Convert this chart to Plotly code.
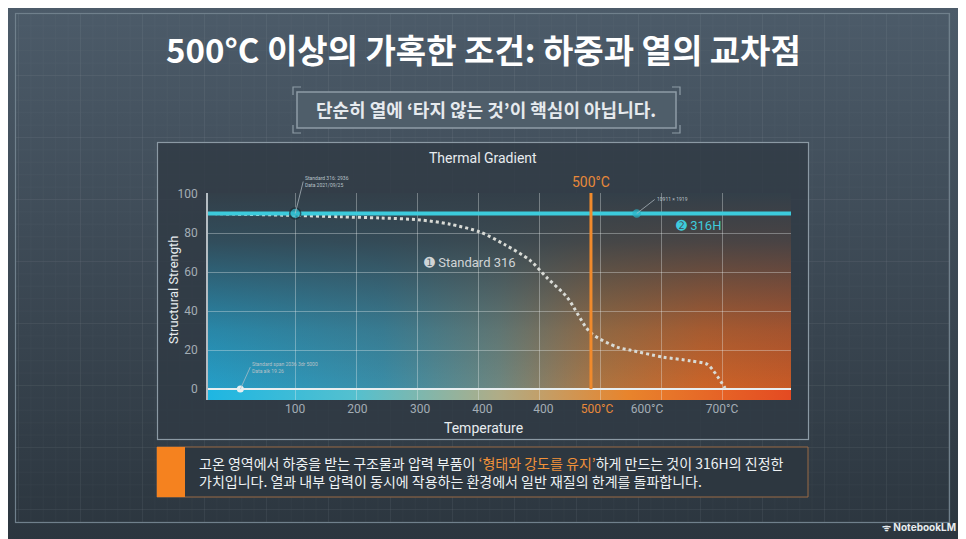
import base64
import plotly.graph_objects as go

W, H = 966, 539
OX, OY = 8, 8  # page body margin offset

# data
temp_std = [-43, 100, 174, 239, 305, 354, 403, 444, 485, 513, 546, 584, 628, 649, 703, 748, 775, 785, 805]
strength_std = [90, 89, 88.3, 87.7, 86.7, 84.5, 80.5, 74, 66, 57, 47, 29, 21.5, 20, 16.4, 14.5, 12.8, 9.7, 0.5]
temp_316h = [-43, 913]
strength_316h = [90, 90]
marker_temps = [100, 660]
marker_strength = [90, 90]
threshold_temp = 585
threshold_span = [0, 100.5]
base_point_temp = [10]
base_point_strength = [0]
grid_temps = [100, 200, 300, 400, 500, 600, 700, 800]
label_temps = [100, 202, 305, 407, 507, 595, 677, 800]
label_text = ["100", "200", "300", "400", "400",
              '<span style="color:#e8893a">500°C</span>', "600°C", "700°C"]


def px(x):
    return (x - OX) / W


def py(y):
    return 1 - (y - OY) / H


def svg_uri(svg):
    return "data:image/svg+xml;base64," + base64.b64encode(svg.encode()).decode()


page_svg = """<svg xmlns="http://www.w3.org/2000/svg" width="966" height="539" viewBox="0 0 966 539">
<defs>
<linearGradient id="bg" x1="0" y1="0" x2="0" y2="1">
<stop offset="0" stop-color="#4c5b69"/><stop offset="1" stop-color="#2b353e"/></linearGradient>
<pattern id="mi" width="12.4" height="12.4" patternUnits="userSpaceOnUse" x="18" y="13">
<path d="M0 0V12.4M0 0H12.4" stroke="#ffffff" stroke-opacity="0.035" fill="none"/></pattern>
<pattern id="ma" width="62" height="62" patternUnits="userSpaceOnUse" x="18" y="13">
<path d="M0 0V62M0 0H62" stroke="#ffffff" stroke-opacity="0.07" fill="none"/></pattern>
</defs>
<rect width="966" height="539" fill="url(#bg)"/>
<g transform="translate(-8,-8)">
<rect x="15" y="13" width="935" height="510" fill="url(#mi)"/>
<rect x="15" y="13" width="935" height="510" fill="url(#ma)"/>
<rect x="15.5" y="13.5" width="934" height="509" fill="none" stroke="#70808c" stroke-width="1.2"/>
<rect x="157.5" y="142.5" width="651" height="297" fill="#2f3a44" fill-opacity="0.8" stroke="#8b99a4" stroke-width="1.2"/>
</g>
</svg>"""

plot_svg = """<svg xmlns="http://www.w3.org/2000/svg" width="583" height="207" viewBox="0 0 583 207" preserveAspectRatio="none">
<defs>
<linearGradient id="h" x1="0" y1="0" x2="1" y2="0">
<stop offset="0" stop-color="#259fc8"/><stop offset="0.3" stop-color="#3a8ea8"/>
<stop offset="0.5" stop-color="#6e8780"/><stop offset="0.68" stop-color="#b0743f"/>
<stop offset="0.85" stop-color="#cc6428"/><stop offset="1" stop-color="#c95a26"/></linearGradient>
<linearGradient id="v" x1="0" y1="0" x2="0" y2="1">
<stop offset="0" stop-color="#333f49" stop-opacity="1"/><stop offset="0.25" stop-color="#333f49" stop-opacity="0.85"/>
<stop offset="0.7" stop-color="#333f49" stop-opacity="0.25"/><stop offset="1" stop-color="#333f49" stop-opacity="0"/></linearGradient>
<linearGradient id="b" x1="0" y1="0" x2="1" y2="0">
<stop offset="0" stop-color="#1eb6e2"/><stop offset="0.25" stop-color="#54c0cf"/>
<stop offset="0.5" stop-color="#b0ac86"/><stop offset="0.72" stop-color="#e8842c"/>
<stop offset="1" stop-color="#e44a22"/></linearGradient>
</defs>
<rect width="583" height="196" fill="url(#h)"/>
<rect width="583" height="196" fill="url(#v)"/>
<rect y="196" width="583" height="11" fill="url(#b)"/>
</svg>"""

fig = go.Figure()

fig.add_trace(go.Scatter(
    x=temp_std, y=strength_std, mode="lines",
    line=dict(color="#d9dbd6", width=3, dash="dot", shape="spline", smoothing=0.8),
    hoverinfo="skip"))
fig.add_trace(go.Scatter(
    x=temp_316h, y=strength_316h, mode="lines",
    line=dict(color="#3ccbdc", width=4), hoverinfo="skip"))
fig.add_trace(go.Scatter(
    x=marker_temps, y=marker_strength, mode="markers",
    marker=dict(size=[11, 7], color="#2bb5c8", line=dict(color=["#1c2b33", "#2bb5c8"], width=1.5)),
    hoverinfo="skip"))
fig.add_trace(go.Scatter(
    x=[threshold_temp, threshold_temp], y=threshold_span, mode="lines",
    line=dict(color="#f08a2c", width=3), hoverinfo="skip", xaxis="x2"))
fig.add_trace(go.Scatter(
    x=base_point_temp, y=base_point_strength, mode="markers",
    marker=dict(size=7, color="#e8f0f2"), hoverinfo="skip"))

axis_font = dict(family="Roboto", size=12, color="#a3adb5")
label_font = "Roboto"
kr_font = "Noto Sans CJK KR"

annotations = [
    dict(text="<b>500°C 이상의 가혹한 조건: 하중과 열의 교차점</b>", x=px(483), y=py(49),
         font=dict(family=kr_font, size=33, color="#ffffff")),
    dict(text="<b>단순히 열에 ‘타지 않는 것’이 핵심이 아닙니다.</b>", x=px(486), y=py(109),
         font=dict(family=kr_font, size=18, color="#e6eaee")),
    dict(text="Thermal Gradient", x=px(483), y=py(158),
         font=dict(family=label_font, size=14, color="#e8ecef")),
    dict(text="Temperature", x=px(483), y=py(428),
         font=dict(family=label_font, size=14, color="#e8ecef")),
    dict(text="Structural Strength", x=px(173), y=py(290), textangle=-90,
         font=dict(family=label_font, size=13, color="#e8ecef")),
    dict(text="500°C", x=px(591), y=py(182),
         font=dict(family=label_font, size=14, color="#e8893a")),
    dict(text="고온 영역에서 하중을 받는 구조물과 압력 부품이 <span style=\"color:#f0913a\">‘형태와 강도를 유지’</span>하게 만드는 것이 316H의 진정한"
              "<br>가치입니다. 열과 내부 압력이 동시에 작용하는 환경에서 일반 재질의 한계를 돌파합니다.",
         x=px(197), y=py(472), xanchor="left", align="left",
         font=dict(family=kr_font, size=14, color="#eef2f4")),
    dict(text="<b>ᯤ NotebookLM</b>", x=px(958), y=py(527), xanchor="right",
         font=dict(family="Inter", size=10, color="#e8ecef")),
]
for a in annotations:
    a.update(xref="paper", yref="paper", showarrow=False)
    a.setdefault("xanchor", "center")
    a.setdefault("yanchor", "middle")

annotations += [
    dict(text="➊ Standard 316", x=387, y=65, xref="x", yref="y", showarrow=False,
         font=dict(family=label_font, size=13, color="#d0d4d6")),
    dict(text="➋ 316H", x=762, y=84, xref="x", yref="y", showarrow=False,
         font=dict(family=label_font, size=13, color="#3ecbdc")),
    dict(text="Standard 316: 2936<br>Data 2021/09/25", x=100, y=90, xref="x", yref="y",
         showarrow=True, arrowhead=0, arrowwidth=0.7, arrowcolor="#b8c2c8", ax=8, ay=-32,
         xanchor="left", align="left", font=dict(family=label_font, size=5, color="#b8c2c8")),
    dict(text="10911 × 1919", x=660, y=90, xref="x", yref="y",
         showarrow=True, arrowhead=0, arrowwidth=0.7, arrowcolor="#b8c2c8", ax=18, ay=-14,
         xanchor="left", align="left", font=dict(family=label_font, size=5, color="#b8c2c8")),
    dict(text="Standard span 2036 3dr 5000<br>Data alk 19.26", x=10, y=0, xref="x", yref="y",
         showarrow=True, arrowhead=0, arrowwidth=0.7, arrowcolor="#b8c2c8", ax=10, ay=-22,
         xanchor="left", align="left", font=dict(family=label_font, size=5, color="#b8c2c8")),
]

bracket = "#8e9ca6"
shapes = [
    dict(type="rect", x0=px(297), x1=px(676), y0=py(128), y1=py(92),
         fillcolor="#4f5e6a", line=dict(color="#8e9ca6", width=1.5)),
    dict(type="path", path=f"M{px(293)},{py(95)} L{px(293)},{py(87)} L{px(301)},{py(87)}",
         line=dict(color=bracket, width=1.2)),
    dict(type="path", path=f"M{px(672)},{py(87)} L{px(680)},{py(87)} L{px(680)},{py(95)}",
         line=dict(color=bracket, width=1.2)),
    dict(type="path", path=f"M{px(293)},{py(125)} L{px(293)},{py(133)} L{px(301)},{py(133)}",
         line=dict(color=bracket, width=1.2)),
    dict(type="path", path=f"M{px(672)},{py(133)} L{px(680)},{py(133)} L{px(680)},{py(125)}",
         line=dict(color=bracket, width=1.2)),
    dict(type="rect", x0=px(157), x1=px(808), y0=py(497), y1=py(447),
         fillcolor="#2d3740", line=dict(color="#9a6a45", width=1)),
    dict(type="rect", x0=px(157), x1=px(185), y0=py(497), y1=py(447),
         fillcolor="#f5821f", line=dict(width=0)),
]
for s in shapes:
    s.update(xref="paper", yref="paper")

images = [
    dict(source=svg_uri(page_svg), xref="paper", yref="paper", x=0, y=1, sizex=1, sizey=1,
         xanchor="left", yanchor="top", sizing="stretch", layer="below"),
    dict(source=svg_uri(plot_svg), xref="paper", yref="paper", x=px(208), y=py(193),
         sizex=px(791) - px(208), sizey=py(193) - py(400),
         xanchor="left", yanchor="top", sizing="stretch", layer="below"),
]

x_range = [-43, 913]
fig.update_layout(
    width=W, height=H,
    margin=dict(l=0, r=0, t=0, b=0),
    paper_bgcolor="#36424c", plot_bgcolor="rgba(0,0,0,0)",
    showlegend=False,
    xaxis=dict(domain=[px(208), px(791)], range=x_range, tickvals=grid_temps,
               showticklabels=False, ticks="", showgrid=True,
               gridcolor="rgba(235,240,242,0.35)", gridwidth=1, zeroline=False,
               automargin=False, fixedrange=True),
    xaxis2=dict(overlaying="x", matches="x", anchor="y", side="bottom", range=x_range,
                tickvals=label_temps, ticktext=label_text, tickfont=axis_font,
                showgrid=False, zeroline=False, ticks="", automargin=False),
    yaxis=dict(domain=[py(400), py(193)], range=[-5.6, 100.5], tickvals=[0, 20, 40, 60, 80, 100],
               tickfont=axis_font, showgrid=True, gridcolor="rgba(235,240,242,0.35)",
               zeroline=True, zerolinecolor="#e8eef0", zerolinewidth=2,
               showline=True, linecolor="rgba(225,232,236,0.75)", linewidth=1.5,
               ticks="", ticklabelstandoff=6, automargin=False, fixedrange=True),
    annotations=annotations,
    shapes=shapes,
    images=images,
)

fig.write_html("out.html")
